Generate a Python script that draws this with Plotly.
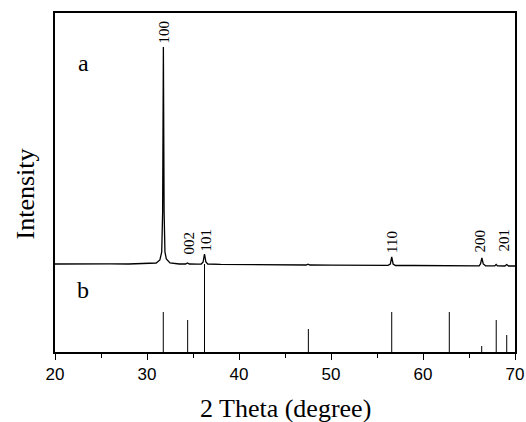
import plotly.graph_objects as go

# Measured pattern (a): 2-theta and intensity (arbitrary units, offset above reference)
pattern_x = [20.0, 22.0, 24.0, 26.0, 28.0, 30.0, 31.0, 31.4, 31.6, 31.7, 31.78, 31.86, 31.95, 32.1, 32.5,
             33.5, 34.2, 34.4, 34.6, 35.5, 35.9, 36.1, 36.25, 36.4, 36.6, 38.0, 40.0, 42.0, 44.0,
             46.0, 47.3, 47.5, 47.7, 50.0, 52.0, 54.0, 56.2, 56.45, 56.6, 56.75, 57.0, 59.0,
             61.0, 62.9, 64.0, 66.1, 66.25, 66.4, 66.55, 66.8, 67.8, 67.95, 68.1, 68.9, 69.1, 69.3, 70.0]
pattern_y = [88.0, 88.3, 88.0, 88.2, 88.0, 88.3, 89.0, 92.0, 100.0, 140.0, 305.0, 140.0, 100.0, 93.0, 89.0,
             88.0, 88.0, 89.0, 88.0, 87.8, 88.0, 90.0, 98.0, 90.0, 88.0, 87.6, 87.5, 87.3, 87.2,
             87.0, 87.0, 87.8, 87.0, 86.9, 86.8, 86.7, 86.6, 88.0, 95.0, 88.0, 86.5, 86.5,
             86.4, 86.8, 86.3, 86.2, 88.0, 94.0, 88.0, 86.2, 86.1, 87.5, 86.1, 86.0, 87.5, 86.0, 86.0]

# Reference stick pattern (b): positions and relative heights
ref_x = [31.77, 34.42, 36.25, 47.54, 56.60, 62.86, 66.38, 67.96, 69.10]
ref_y = [40.0, 32.0, 88.0, 23.0, 40.0, 40.0, 6.0, 32.0, 17.0]

# Peak index labels
hkl_labels = ["100", "002", "101", "110", "200", "201"]
hkl_x = [31.74, 34.46, 36.41, 56.63, 66.09, 68.70]
hkl_y = [306.0, 95.0, 99.0, 97.0, 97.0, 98.0]

x_ticks = [20, 30, 40, 50, 60, 70]

stick_x, stick_y = [], []
for xv, yv in zip(ref_x, ref_y):
    stick_x += [xv, xv, None]
    stick_y += [0, yv, None]

fig = go.Figure()
fig.add_trace(go.Scatter(x=pattern_x, y=pattern_y, mode="lines",
                         line=dict(color="black", width=1.3), showlegend=False))
fig.add_trace(go.Scatter(x=stick_x, y=stick_y, mode="lines",
                         line=dict(color="black", width=1), showlegend=False))

serif = "Liberation Serif, Times New Roman, serif"
for t, xv, yv in zip(hkl_labels, hkl_x, hkl_y):
    fig.add_annotation(x=xv, y=yv, text=t, textangle=-90, showarrow=False,
                       xanchor="center", yanchor="bottom",
                       font=dict(family=serif, size=15, color="black"))

fig.add_annotation(xref="paper", yref="paper", x=0.046, y=0.896, text="a", showarrow=False,
                   font=dict(family=serif, size=24, color="black"))
fig.add_annotation(xref="paper", yref="paper", x=0.044, y=0.138, text="b", showarrow=False,
                   font=dict(family=serif, size=24, color="black"))

# axis titles
fig.add_annotation(xref="paper", yref="paper", x=0.5, y=-0.168, text="2 Theta (degree)",
                   showarrow=False, xanchor="center", yanchor="middle",
                   font=dict(family=serif, size=26, color="black"))
fig.add_annotation(xref="paper", yref="paper", x=-0.065, y=0.465, text="Intensity",
                   textangle=-90, showarrow=False, xanchor="center", yanchor="middle",
                   font=dict(family=serif, size=26, color="black"))

fig.update_layout(
    width=526, height=422,
    margin=dict(l=55, r=11, t=13, b=70, autoexpand=False),
    paper_bgcolor="white", plot_bgcolor="white",
    xaxis=dict(range=[20, 70], tickvals=x_ticks, ticktext=[str(v) for v in x_ticks],
               ticks="outside", ticklen=6, tickwidth=1, tickcolor="black",
               minor=dict(dtick=5, tick0=20, ticks="outside", ticklen=4, tickcolor="black", showgrid=False),
               showline=True, linecolor="black", linewidth=1.5, mirror=True,
               showgrid=False, zeroline=False, automargin=False,
               tickfont=dict(family="Liberation Sans, Arial, sans-serif", size=17, color="black")),
    yaxis=dict(range=[0, 339], showticklabels=False, ticks="",
               showline=True, linecolor="black", linewidth=1.5, mirror=True,
               showgrid=False, zeroline=False, automargin=False),
)

fig.write_html("out.html", config={"displayModeBar": False},
               post_script="document.body.style.margin='0';document.body.style.overflow='hidden';")
